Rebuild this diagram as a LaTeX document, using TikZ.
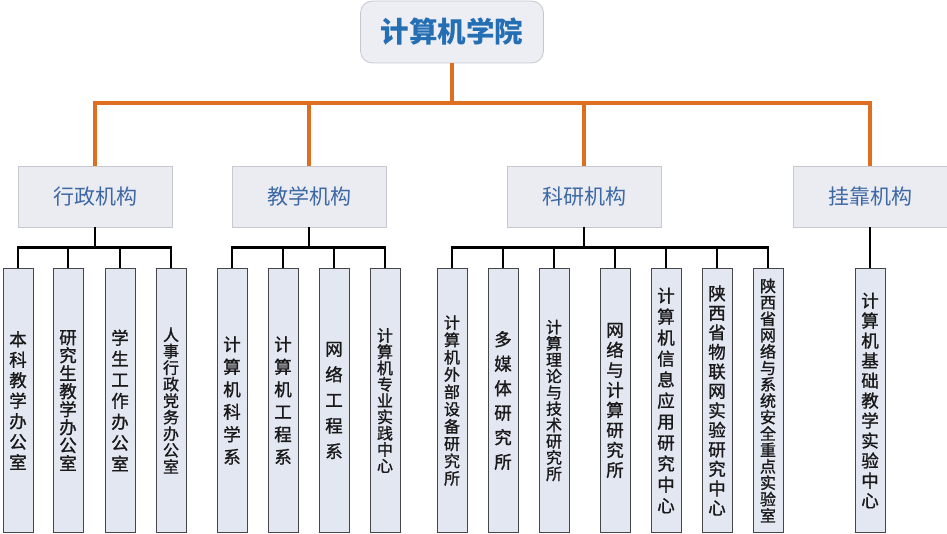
\documentclass[tikz,border=0pt]{standalone}
\usepackage{fontspec}
\newfontfamily\cjk{Noto Sans CJK SC}
\newfontfamily\cjkleaf[FakeBold=1.2]{Noto Sans CJK SC}
\definecolor{orangeline}{RGB}{222,110,32}
\definecolor{topfill}{RGB}{236,238,244}
\definecolor{topborder}{RGB}{198,200,208}
\definecolor{midfill}{RGB}{235,235,242}
\definecolor{midborder}{RGB}{200,200,208}
\definecolor{titleblue}{RGB}{36,110,180}
\definecolor{midblue}{RGB}{60,104,164}
\definecolor{leaffill}{RGB}{226,231,242}
\definecolor{leafborder}{RGB}{70,70,74}
\tikzset{
  topbox/.style={draw=topborder, fill=topfill, rounded corners=12pt, line width=0.8pt,
    minimum width=183pt, minimum height=62pt, inner sep=0pt, text=titleblue,
    font=\cjk\bfseries\fontsize{28.5pt}{30pt}\selectfont},
  midbox/.style={draw=midborder, fill=midfill, line width=0.8pt,
    minimum width=154pt, minimum height=61pt, inner sep=0pt, text=midblue,
    font=\cjk\fontsize{21pt}{24pt}\selectfont},
  leaf/.style={draw=leafborder, fill=leaffill, line width=1pt, anchor=north,
    minimum width=30pt, minimum height=264pt, inner sep=0pt, align=center, text=black!90},
  vt/.style={font=\cjkleaf\fontsize{17.5pt}{#1pt}\selectfont},
  vs/.style={font=\cjkleaf\fontsize{16pt}{#1pt}\selectfont},
  oline/.style={draw=orangeline, line width=4pt},
  bline/.style={draw=black, line width=2.6pt},
}
\begin{document}
\begin{tikzpicture}[x=1pt, y=-1pt]
\useasboundingbox (0,0) rectangle (947,534);
\fill[white] (0,0) rectangle (947,534);

\node[topbox] (root) at (452,32) {计算机学院};

\node[midbox] (m1) at (95,196.5) {行政机构};
\node[midbox] (m2) at (309,196.5) {教学机构};
\node[midbox] (m3) at (584,196.5) {科研机构};
\node[midbox] (m4) at (870,196.5) {挂靠机构};

% group 1
\node[leaf, vt=20.5] (a1) at (18,268) {本\\科\\教\\学\\办\\公\\室};
\node[leaf, vt=18] (a2) at (68,268) {研\\究\\生\\教\\学\\办\\公\\室};
\node[leaf, vt=21] (a3) at (120,268) {学\\生\\工\\作\\办\\公\\室};
\node[leaf, vs=16.5] (a4) at (171,268) {人\\事\\行\\政\\党\\务\\办\\公\\室};
% group 2
\node[leaf, vt=22.5] (b1) at (232,268) {计\\算\\机\\科\\学\\系};
\node[leaf, vt=22.5] (b2) at (283,268) {计\\算\\机\\工\\程\\系};
\node[leaf, vt=25.6] (b3) at (334,268) {网\\络\\工\\程\\系};
\node[leaf, vs=16.3] (b4) at (385,268) {计\\算\\机\\专\\业\\实\\践\\中\\心};
% group 3
\node[leaf, vs=17.3] (c1) at (452,268) {计\\算\\机\\外\\部\\设\\备\\研\\究\\所};
\node[leaf, vt=24.5] (c2) at (503,268) {多\\媒\\体\\研\\究\\所};
\node[leaf, vs=16.3] (c3) at (554,268) {计\\算\\理\\论\\与\\技\\术\\研\\究\\所};
\node[leaf, vt=20] (c4) at (615,268) {网\\络\\与\\计\\算\\研\\究\\所};
\node[leaf, vt=21] (c5) at (666,268) {计\\算\\机\\信\\息\\应\\用\\研\\究\\中\\心};
\node[leaf, vt=19.5] (c6) at (717,268) {陕\\西\\省\\物\\联\\网\\实\\验\\研\\究\\中\\心};
\node[leaf, vs=16.4] (c7) at (768,268) {陕\\西\\省\\网\\络\\与\\系\\统\\安\\全\\重\\点\\实\\验\\室};
% group 4
\node[leaf, vt=20] (d1) at (870,268) {计\\算\\机\\基\\础\\教\\学\\实\\验\\中\\心};

% orange connectors
\foreach \m in {m1,m2,m3,m4}
  \draw[oline] (root.south) -- ++(0,40) -| (\m.north);

% black connectors
\foreach \c in {a1,a2,a3,a4}
  \draw[bline] (m1.south) -- ++(0,20) -| (\c.north);
\foreach \c in {b1,b2,b3,b4}
  \draw[bline] (m2.south) -- ++(0,20) -| (\c.north);
\foreach \c in {c1,c2,c3,c4,c5,c6,c7}
  \draw[bline] (m3.south) -- ++(0,20) -| (\c.north);
\draw[bline] (m4.south) -- (d1.north);
\end{tikzpicture}
\end{document}
